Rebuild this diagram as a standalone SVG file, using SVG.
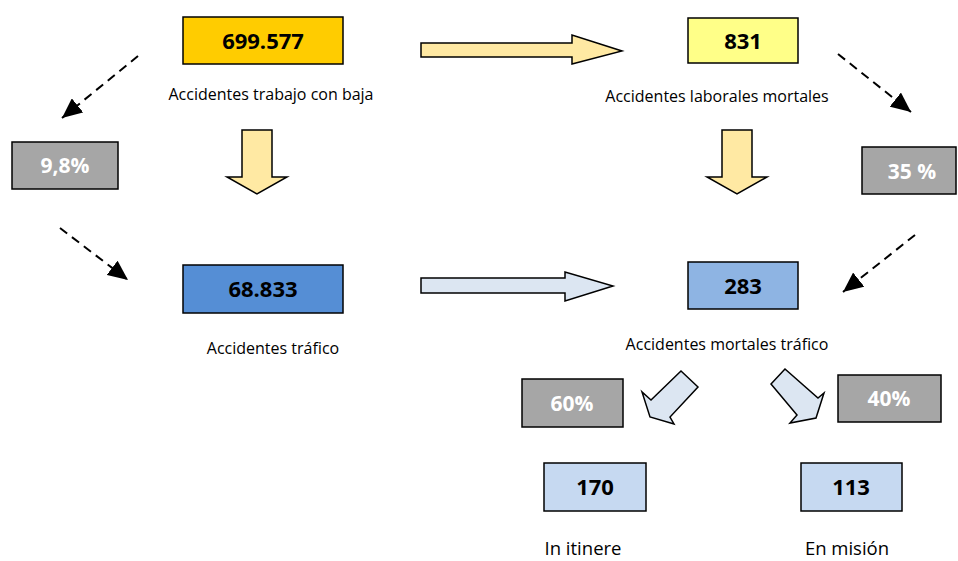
<svg xmlns="http://www.w3.org/2000/svg" width="958" height="561" viewBox="0 0 958 561">
<style>
.box{stroke:#000;stroke-width:1.5}
.num{font-family:"Open Sans","Liberation Sans",sans-serif;font-weight:700;font-size:22px;text-anchor:middle;fill:#000}
.pct{font-family:"Open Sans","Liberation Sans",sans-serif;font-weight:700;font-size:21px;text-anchor:middle;fill:#fff}
.lbl{font-family:"Open Sans","Liberation Sans",sans-serif;font-size:16px;text-anchor:middle;fill:#000}
.lbl2{font-family:"Open Sans","Liberation Sans",sans-serif;font-size:18.5px;text-anchor:middle;fill:#000}
.ya{fill:#FFE9A3;stroke:#000;stroke-width:1.5;stroke-linejoin:miter}
.ba{fill:#DCE6F2;stroke:#000;stroke-width:1.5;stroke-linejoin:miter}
.dash{fill:none;stroke:#000;stroke-width:2;stroke-dasharray:9 6}
</style>
<defs>
<marker id="ah" markerUnits="userSpaceOnUse" markerWidth="22" markerHeight="18" refX="20" refY="9" orient="auto">
<path d="M0,0 L20,9 L0,18 Z" fill="#000"/>
</marker>
</defs>
<g id="connectors">
<path class="ya" d="M421,43 L572,43 L572,35 L622,51 L572,64 L572,57 L421,57 Z"/>
<path class="ya" d="M242,130 L272,130 L272,177 L287,177 L257,194 L227,177 L242,177 Z"/>
<path class="ya" d="M722,130 L752,130 L752,177 L767,177 L737,194 L707,177 L722,177 Z"/>
<path class="ba" d="M421,278 L565,278 L565,272 L613,286 L565,301 L565,293 L421,293 Z"/>
<path class="ba" d="M681,371 L698,387 L670,417 L674,424 L650,417 L642,392 L651,400 Z"/>
<path class="ba" d="M785,369 L771,384 L797,415 L790,423 L816,418 L824,393 L818,398 Z"/>
<line class="dash" x1="138" y1="56" x2="62" y2="118" marker-end="url(#ah)"/>
<line class="dash" x1="60" y1="228" x2="128" y2="280" marker-end="url(#ah)"/>
<line class="dash" x1="838" y1="54" x2="911" y2="112" marker-end="url(#ah)"/>
<line class="dash" x1="915" y1="235" x2="843" y2="292" marker-end="url(#ah)"/>
</g>
<g id="n699577">
<rect class="box" x="183" y="17" width="160" height="47" fill="#FFCC00"/>
<text class="num" x="263" y="49">699.577</text>
<text class="lbl" x="271" y="100">Accidentes trabajo con baja</text>
</g>
<g id="n831">
<rect class="box" x="688" y="18" width="110" height="45" fill="#FFFF88"/>
<text class="num" x="743" y="49">831</text>
<text class="lbl" x="717" y="102">Accidentes laborales mortales</text>
</g>
<g id="p98">
<rect class="box" x="12" y="142" width="106" height="47" fill="#A6A6A6"/>
<text class="pct" x="65" y="173">9,8%</text>
</g>
<g id="p35">
<rect class="box" x="862" y="147" width="94" height="47" fill="#A6A6A6"/>
<text class="pct" x="912" y="179">35 %</text>
</g>
<g id="n68833">
<rect class="box" x="183" y="265" width="160" height="48" fill="#558ED5"/>
<text class="num" x="263" y="297">68.833</text>
<text class="lbl" x="273" y="354">Accidentes tráfico</text>
</g>
<g id="n283">
<rect class="box" x="688" y="262" width="110" height="47" fill="#8EB4E3"/>
<text class="num" x="743" y="294">283</text>
<text class="lbl" x="727" y="350">Accidentes mortales tráfico</text>
</g>
<g id="p60">
<rect class="box" x="522" y="379" width="101" height="48" fill="#A6A6A6"/>
<text class="pct" x="572" y="411">60%</text>
</g>
<g id="p40">
<rect class="box" x="838" y="375" width="103" height="47" fill="#A6A6A6"/>
<text class="pct" x="889" y="406">40%</text>
</g>
<g id="n170">
<rect class="box" x="544" y="463" width="102" height="48" fill="#C6D9F1"/>
<text class="num" x="595" y="495">170</text>
<text class="lbl2" x="583" y="555">In itinere</text>
</g>
<g id="n113">
<rect class="box" x="801" y="463" width="101" height="48" fill="#C6D9F1"/>
<text class="num" x="851" y="495">113</text>
<text class="lbl2" x="847" y="555">En misión</text>
</g>
</svg>
